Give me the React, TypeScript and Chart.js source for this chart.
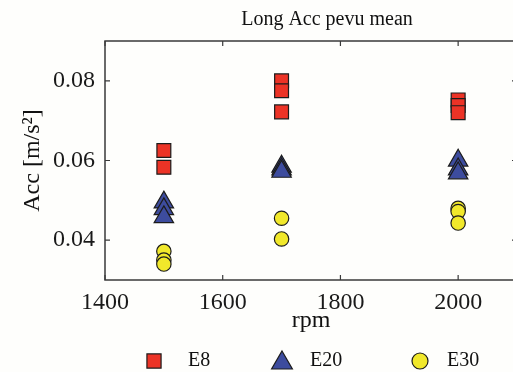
import React, { useEffect, useRef } from 'react';
import { Chart, registerables } from 'chart.js';

Chart.register(...registerables);

const chartTitle = 'Long Acc pevu mean';
const xAxisLabel = 'rpm';
const yAxisLabel = 'Acc [m/s²]';
const seriesNames = ['E8', 'E20', 'E30'];
const xTicks = [1400, 1600, 1800, 2000];
const yTicks = [0.04, 0.06, 0.08];
const xRange = [1400, 2100];
const yRange = [0.03, 0.09];

const e8Rpm = [1500, 1500, 1700, 1700, 1700, 2000, 2000, 2000];
const e8Acc = [0.0625, 0.0583, 0.08, 0.0775, 0.0722, 0.0752, 0.0738, 0.072];
const e20Rpm = [1500, 1500, 1500, 1700, 1700, 1700, 2000, 2000, 2000];
const e20Acc = [0.0495, 0.0478, 0.0458, 0.0585, 0.0578, 0.0572, 0.06, 0.0578, 0.0568];
const e30Rpm = [1500, 1500, 1500, 1700, 1700, 2000, 2000, 2000];
const e30Acc = [0.0372, 0.035, 0.034, 0.0455, 0.0403, 0.048, 0.0472, 0.0443];

const FONT = '"Liberation Serif", "Times New Roman", serif';
const RED = '#ec3326';
const BLUE = '#3d4c9e';
const YELLOW = '#f1e82b';
const EDGE = '#1c1c1c';

function drawMarker(ctx: CanvasRenderingContext2D, style: string, x: number, y: number, r: number, fill: string) {
  ctx.beginPath();
  if (style === 'rect') {
    const s = Math.SQRT1_2 * r;
    ctx.rect(x - s, y - s, 2 * s, 2 * s);
  } else if (style === 'triangle') {
    ctx.moveTo(x, y - r);
    ctx.lineTo(x + r * Math.sin((2 * Math.PI) / 3), y + r / 2);
    ctx.lineTo(x - r * Math.sin((2 * Math.PI) / 3), y + r / 2);
    ctx.closePath();
  } else {
    ctx.arc(x, y, r, 0, Math.PI * 2);
  }
  ctx.fillStyle = fill;
  ctx.fill();
  ctx.lineWidth = 1.2;
  ctx.strokeStyle = EDGE;
  ctx.stroke();
}

const framePlugin = {
  id: 'matlabFrame',
  beforeDatasetsDraw(chart: any) {
    const { ctx, chartArea: a, scales } = chart;
    ctx.save();
    ctx.strokeStyle = '#3a3a3a';
    ctx.lineWidth = 1.5;
    ctx.strokeRect(a.left, a.top, a.right - a.left, a.bottom - a.top);
    ctx.lineWidth = 1.2;
    const L = 5;
    ctx.beginPath();
    xTicks.forEach((v) => {
      const px = scales.x.getPixelForValue(v);
      ctx.moveTo(px, a.bottom);
      ctx.lineTo(px, a.bottom - L);
      ctx.moveTo(px, a.top);
      ctx.lineTo(px, a.top + L);
    });
    yTicks.forEach((v) => {
      const py = scales.y.getPixelForValue(v);
      ctx.moveTo(a.left, py);
      ctx.lineTo(a.left + L, py);
      ctx.moveTo(a.right, py);
      ctx.lineTo(a.right - L, py);
    });
    ctx.stroke();
    ctx.restore();
  },
  afterDraw(chart: any) {
    const { ctx, chartArea: a } = chart;
    ctx.save();
    ctx.fillStyle = '#111';
    ctx.font = `20px ${FONT}`;
    ctx.textAlign = 'center';
    ctx.textBaseline = 'middle';
    ctx.fillText(chartTitle, a.left + 222, 20);

    const markerX = [a.left + 49, a.left + 177, a.left + 315];
    const textX = [a.left + 83, a.left + 205, a.left + 342];
    const ly = 361;
    chart.data.datasets.forEach((ds: any, i: number) => {
      const r = ds.pointStyle === 'triangle' ? 12 : ds.pointStyle === 'rect' ? 10 : 8;
      drawMarker(ctx, ds.pointStyle, markerX[i], ds.pointStyle === 'triangle' ? ly + 2 : ly, r, ds.backgroundColor);
      ctx.fillStyle = '#111';
      ctx.font = `20px ${FONT}`;
      ctx.textAlign = 'left';
      ctx.textBaseline = 'middle';
      ctx.fillText(ds.label, textX[i], ly);
    });
    ctx.restore();
  },
};

function toPoints(xs: number[], ys: number[]) {
  return xs.map((x, i) => ({ x, y: ys[i] }));
}

export default function App() {
  const ref = useRef<HTMLCanvasElement | null>(null);

  useEffect(() => {
    if (!ref.current) return;
    const common = { showLine: false, borderColor: EDGE, borderWidth: 1.2 };
    const chart = new Chart(ref.current, {
      type: 'scatter',
      data: {
        datasets: [
          { ...common, label: seriesNames[0], data: toPoints(e8Rpm, e8Acc), pointStyle: 'rect', pointRadius: 9.8, backgroundColor: RED },
          { ...common, label: seriesNames[1], data: toPoints(e20Rpm, e20Acc), pointStyle: 'triangle', pointRadius: 11.2, backgroundColor: BLUE },
          { ...common, label: seriesNames[2], data: toPoints(e30Rpm, e30Acc), pointStyle: 'circle', pointRadius: 7.2, backgroundColor: YELLOW },
        ] as any,
      },
      options: {
        animation: false,
        responsive: false,
        maintainAspectRatio: false,
        layout: { padding: { left: 0, right: 43, top: 41, bottom: 8 } },
        plugins: { legend: { display: false }, tooltip: { enabled: false }, title: { display: false } },
        scales: {
          x: {
            type: 'linear',
            min: xRange[0],
            max: xRange[1],
            grid: { display: false, drawTicks: false },
            border: { display: false },
            afterBuildTicks: (s: any) => { s.ticks = xTicks.map((v) => ({ value: v })); },
            afterFit: (s: any) => { s.height = 84; },
            ticks: { color: '#1a1a1a', font: { family: FONT, size: 24 }, padding: 8, maxRotation: 0, callback: (v: any) => String(v) },
            title: { display: true, text: xAxisLabel, color: '#111', font: { family: FONT, size: 24 }, padding: { top: 0, bottom: 29 } },
          },
          y: {
            type: 'linear',
            min: yRange[0],
            max: yRange[1],
            grid: { display: false, drawTicks: false },
            border: { display: false },
            afterBuildTicks: (s: any) => { s.ticks = yTicks.map((v) => ({ value: v })); },
            afterFit: (s: any) => { s.width = 105; },
            ticks: { color: '#1a1a1a', font: { family: FONT, size: 24 }, padding: 10, callback: (v: any) => Number(v).toFixed(2) },
            title: { display: true, text: yAxisLabel, color: '#111', font: { family: FONT, size: 24 }, padding: { top: 18, bottom: 0 } },
          },
        },
      } as any,
      plugins: [framePlugin],
    });
    return () => chart.destroy();
  }, []);

  return (
    <div style={{ position: 'fixed', left: 0, top: 0, width: 513, height: 372, overflow: 'hidden', background: '#fefefc' }}>
      <canvas ref={ref} width={560} height={372} style={{ position: 'absolute', left: 0, top: 0, width: 560, height: 372 }} />
    </div>
  );
}
